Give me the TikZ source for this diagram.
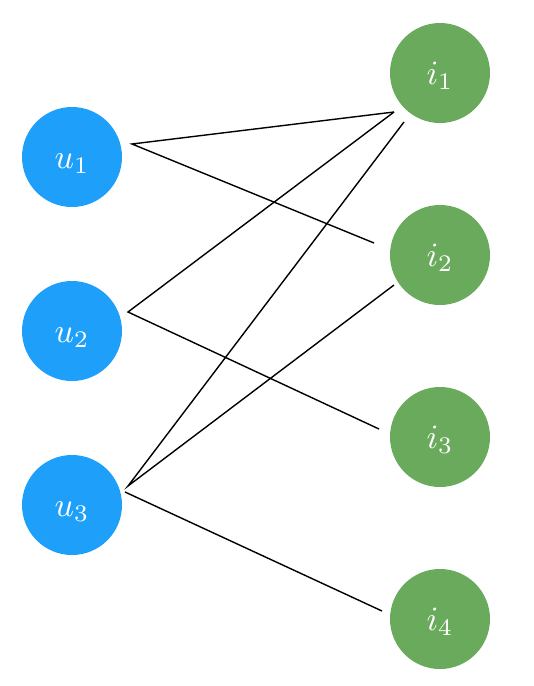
\documentclass[tikz,border=0pt]{standalone}
\newcommand\nlbl[2]{\raisebox{-11pt}[0pt][0pt]{\scalebox{3.4}{$#1_{#2}$}}}
\begin{document}
\begin{tikzpicture}[x=1pt,y=-1pt,
  unode/.style={circle,fill=ublue,minimum size=100pt,inner sep=0pt,text=white},
  inode/.style={circle,fill=igreen,minimum size=100pt,inner sep=0pt,text=white},
  link/.style={line width=1.4pt,black}]
\definecolor{ublue}{RGB}{30,160,250}
\definecolor{igreen}{RGB}{106,170,92}
\useasboundingbox (0,0) rectangle (534,686);
\node[unode] (u1) at (72,157) {\nlbl{u}{1}};
\node[unode] (u2) at (72,331) {\nlbl{u}{2}};
\node[unode] (u3) at (72,505) {\nlbl{u}{3}};
\node[inode] (i1) at (440,73) {\nlbl{i}{1}};
\node[inode] (i2) at (440,255) {\nlbl{i}{2}};
\node[inode] (i3) at (440,437) {\nlbl{i}{3}};
\node[inode] (i4) at (440,619) {\nlbl{i}{4}};
\coordinate (u1o) at (132,144);
\coordinate (u2o) at (128,312);
\coordinate (u3o) at (128,486);
\coordinate (u3p) at (125,492);
\coordinate (i1a) at (394,112);
\coordinate (i1b) at (404,122);
\coordinate (i2a) at (374,243);
\coordinate (i2b) at (394,285);
\coordinate (i3a) at (379,429);
\coordinate (i4a) at (382,611);
\draw[link] (i1a) -- (u1o) -- (i2a);
\draw[link] (i1a) -- (u2o) -- (i3a);
\draw[link] (i1b) -- (u3o) -- (i2b);
\draw[link] (u3p) -- (i4a);
\end{tikzpicture}
\end{document}
